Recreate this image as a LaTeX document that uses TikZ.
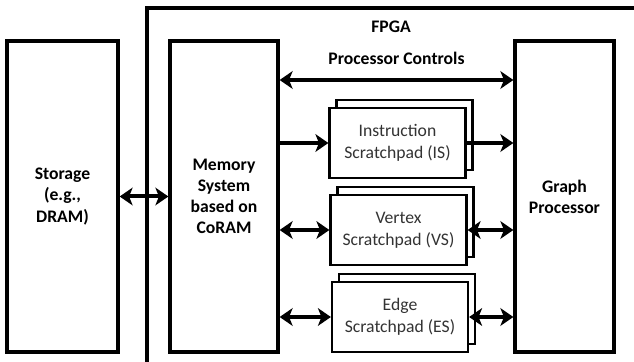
\documentclass[tikz,border=0pt]{standalone}
\usepackage{fontspec}
\setmainfont{Carlito}
\usetikzlibrary{arrows.meta,shadows}

\tikzset{
  >={Stealth[length=11pt,width=15pt,inset=3pt]},
  blk/.style={draw, line width=2.8pt, align=center, font=\bfseries\fontsize{15}{18}\selectfont},
  pad/.style={draw, line width=1.9pt, fill=white, align=center, text=black!80,
    minimum width=115.6pt, minimum height=59.5pt, font=\fontsize{15}{19}\selectfont,
    copy shadow={shadow xshift=6pt, shadow yshift=6.8pt}},
  link/.style={line width=3.4pt},
}

\begin{document}
\begin{tikzpicture}[x=0.85pt,y=-0.85pt]
    \useasboundingbox (0,0) rectangle (634,362);
    % FPGA border
    \draw[line width=2.9pt] (147,362) |- (634,8);
    \node[font=\bfseries\fontsize{15}{18}\selectfont] (fpga) at (391,27) {FPGA};

    \node[blk, minimum width=94.35pt, minimum height=264.35pt] (storage) at (62.5,196.5) {Storage\\(e.g.,\\DRAM)};
    \node[blk, minimum width=91.8pt, minimum height=264.35pt] (mem) at (224,196.5) {Memory\\System\\based on\\CoRAM};
    \node[blk, minimum width=84.15pt, minimum height=264.35pt] (gp) at (564.5,196.5) {Graph\\Processor};

    \node[pad] (is) at (397.5,143) {Instruction\\Scratchpad (IS)};
    \node[pad] (vs) at (398.5,230) {Vertex\\Scratchpad (VS)};
    \node[pad] (es) at (400,317) {Edge\\Scratchpad (ES)};

    \draw[link,<->] (storage.east) -- (mem.west);
    \draw[link,<->] (mem.east |- 0,80) -- (gp.west |- 0,80)
        node[midway, above=8pt, font=\bfseries\fontsize{15}{18}\selectfont] (ctl) {Processor Controls};
    \draw[link,->] (mem.east |- is.west) -- (is.west);
    \draw[link,->] (is.east) -- (gp.west |- is.east);
    \draw[link,<->] (mem.east |- vs.west) -- (vs.west);
    \draw[link,<->] (vs.east) -- (gp.west |- vs.east);
    \draw[link,<->] (mem.east |- es.west) -- (es.west);
    \draw[link,<->] (es.east) -- (gp.west |- es.east);
\end{tikzpicture}
\end{document}
